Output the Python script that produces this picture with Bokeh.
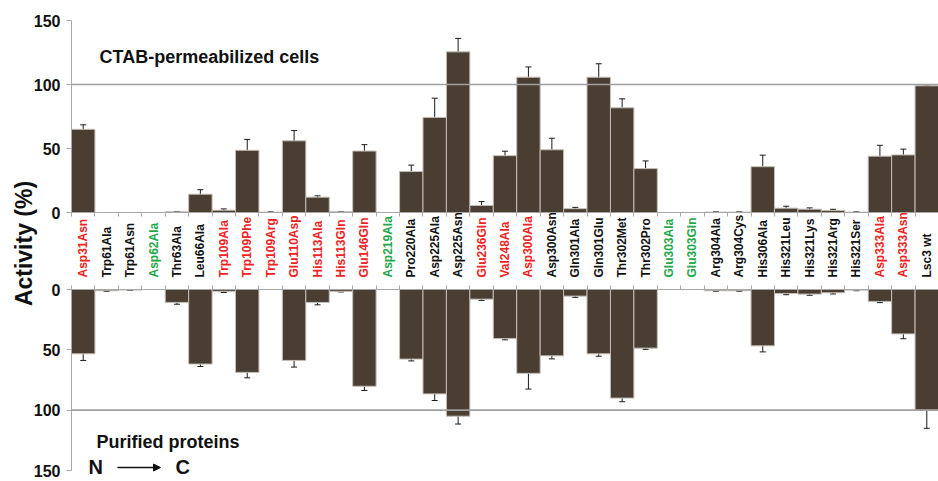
import numpy as np
from math import pi
from bokeh.plotting import figure
from bokeh.models import (Range1d, LinearAxis, FixedTicker, ColumnDataSource, Whisker,
                          TeeHead, Label, Arrow, NormalHead, CustomJSTickFormatter)
from bokeh.transform import factor_cmap
from bokeh.core.properties import value
from bokeh.embed import file_html
from bokeh.resources import INLINE

# ---------------- data ----------------
mutants = ["Asp31Asn", "Trp61Ala", "Trp61Asn", "Asp62Ala", "Thr63Ala", "Leu66Ala",
           "Trp109Ala", "Trp109Phe", "Trp109Arg", "Glu110Asp", "His113Ala", "His113Gln",
           "Glu146Gln", "Asp219Ala", "Pro220Ala", "Asp225Ala", "Asp225Asn", "Glu236Gln",
           "Val248Ala", "Asp300Ala", "Asp300Asn", "Gln301Ala", "Gln301Glu", "Thr302Met",
           "Thr302Pro", "Glu303Ala", "Glu303Gln", "Arg304Ala", "Arg304Cys", "His306Ala",
           "His321Leu", "His321Lys", "His321Arg", "His321Ser", "Asp333Ala", "Asp333Asn",
           "Lsc3 wt"]
label_class = ["A", "B", "B", "C", "B", "B",
               "A", "A", "A", "A", "A", "A",
               "A", "C", "B", "B", "B", "A",
               "A", "A", "B", "B", "B", "B",
               "B", "C", "C", "B", "B", "B",
               "B", "B", "B", "B", "A", "A",
               "B"]
cells_activity = [65, 0, 0, 0, 0.5, 14.3, 1.8, 48.6, 0.3, 56, 12, 0.5,
                  48, 0, 32, 74.3, 125.5, 5.5, 44.4, 105.7, 49, 3, 105.7, 81.8,
                  34.3, 0, 0, 0.3, 0.3, 35.8, 3.4, 2.6, 1.5, 0.3, 44, 45, 99]
cells_error = [3.5, 0, 0, 0, 0.3, 3.5, 1, 8.5, 0.3, 8, 1, 0.3,
               5, 0, 5, 15, 10.5, 3, 3.5, 8, 9, 1, 10.5, 7,
               6, 0, 0, 0.3, 0.3, 9, 1.5, 1, 1, 0.3, 8.5, 4.5, 0.5]
protein_activity = [53.3, 1, 0.5, 0, 10.7, 61.8, 1.5, 68.7, 0, 58.8, 10.7, 1.5,
                    80.2, 0, 57.7, 86.5, 105, 8, 40.7, 69.5, 55, 5.5, 53.3, 90,
                    48.6, 0, 0, 1, 1, 46.7, 3.3, 3.8, 2.7, 0.5, 9.9, 36.8, 100]
protein_error = [5.5, 0.5, 0.3, 0, 1.5, 2, 1, 4.5, 0, 5.5, 2, 0.5,
                 3.5, 0, 1.5, 5.5, 6.5, 1, 1, 13, 2.5, 1, 2, 3,
                 1, 0, 0, 0.5, 0.5, 5, 1, 1, 1, 0.5, 1, 4, 15]
y_ticks = [0, 50, 100, 150]
ref_level = 100
class_names = ["A", "B", "C"]

# ---------------- layout (pixels) ----------------
W, H = 938, 481
AX_X = 71                      # pixel x of the value axes
TOP_150, TOP_0 = 20, 212       # pixel y of 150 / 0 in the upper panel
BOT_0, BOT_150 = 289, 470      # pixel y of 0 / 150 in the lower panel

n = len(mutants)
xpx = (W - AX_X) / n
x_range = Range1d(-AX_X / xpx, n)
tpx = (TOP_0 - TOP_150) / 150.0
y_range = Range1d(-(H - TOP_0) / tpx, 150 + TOP_150 / tpx)
bpx = (BOT_150 - BOT_0) / 150.0
bot_range = Range1d(150 + (H - BOT_150) / bpx, -BOT_0 / bpx)

def tx(px):   # pixel x -> data x
    return (px - AX_X) / xpx

def ty(py):   # pixel y -> upper-panel value
    return (TOP_0 - py) / tpx

def by(py):   # pixel y -> lower-panel value
    return (py - BOT_0) / bpx

# ---------------- style ----------------
FONT = "Liberation Sans"
BAR = "#4a3e32"
AXIS = "#a8a8a8"
INK = "#111111"
class_colors = ["#ee2222", "#111111", "#1fa84a"]

p = figure(width=W, height=H, output_backend="svg", toolbar_location=None,
           x_range=x_range, y_range=y_range,
           min_border_left=0, min_border_right=0, min_border_top=0, min_border_bottom=0,
           x_axis_type=None, y_axis_type=None)
p.outline_line_color = None
p.background_fill_color = "white"
p.border_fill_color = "white"
p.extra_y_ranges = {"bot": bot_range}

xpos = np.arange(n) + 0.5
src = ColumnDataSource(dict(x=xpos, name=mutants, cls=label_class,
                            cells=cells_activity, prot=protein_activity))

# bars
p.vbar(x="x", width=1, top="cells", bottom=0, source=src,
       fill_color=BAR, line_color="#c4beb8", line_width=1)
p.vbar(x="x", width=1, top="prot", bottom=0, source=src, y_range_name="bot",
       fill_color=BAR, line_color="#c4beb8", line_width=1)

# 100 % reference lines (from the axis to the right end)
p.segment(x0=0, x1=n, y0=ref_level, y1=ref_level, line_color="#a0a0a0", line_width=1.6)
p.segment(x0=0, x1=n, y0=ref_level, y1=ref_level, line_color="#a0a0a0", line_width=1.6,
          y_range_name="bot")

# category labels
p.text(x="x", y=ty(277), text="name", source=src, angle=pi / 2,
       text_align="left", text_baseline="middle",
       text_font=value(FONT), text_font_style="bold", text_font_size="12px",
       text_color=factor_cmap("cls", palette=class_colors, factors=class_names))

# error bars
def whiskers(vals, errs, rng):
    idx = [i for i in range(n) if vals[i] > 0]
    ws = ColumnDataSource(dict(x=[xpos[i] for i in idx],
                               up=[vals[i] + errs[i] for i in idx],
                               lo=[vals[i] - errs[i] for i in idx]))
    w = Whisker(source=ws, base="x", upper="up", lower="lo",
                line_color="#1a1a1a", line_width=1,
                upper_head=TeeHead(size=6, line_color="#1a1a1a", line_width=1),
                lower_head=TeeHead(size=6, line_color="#1a1a1a", line_width=1))
    if rng:
        w.y_range_name = rng
    p.add_layout(w)

whiskers(cells_activity, cells_error, None)
whiskers(protein_activity, protein_error, "bot")

# y axes (drawn at x = 0, inside the frame)
for rng in (None, "bot"):
    ax = LinearAxis(ticker=FixedTicker(ticks=y_ticks), bounds=(0, 150), fixed_location=0)
    if rng:
        ax.y_range_name = rng
    ax.major_label_text_font = FONT
    ax.major_label_text_font_style = "bold"
    ax.major_label_text_font_size = "16px"
    ax.major_label_text_color = INK
    ax.axis_line_color = AXIS
    ax.major_tick_line_color = AXIS
    ax.major_tick_out = 5
    ax.major_tick_in = 0
    ax.minor_tick_line_color = None
    ax.major_label_standoff = 6
    p.add_layout(ax, "left")

# x axes (category boundary ticks)
blank = CustomJSTickFormatter(code="return ''")
xb = LinearAxis(ticker=FixedTicker(ticks=list(range(n + 1))), fixed_location=0,
                formatter=blank, bounds=(0, n))
xa = LinearAxis(ticker=FixedTicker(ticks=list(range(n + 1))), fixed_location=0,
                formatter=blank, bounds=(0, n), y_range_name="bot")
for ax in (xb, xa):
    ax.axis_line_color = AXIS
    ax.major_tick_line_color = AXIS
    ax.major_tick_out = 4
    ax.major_tick_in = 0
    ax.minor_tick_line_color = None
p.add_layout(xb, "below")
p.add_layout(xa, "above")

# texts
p.add_layout(Label(x=tx(99), y=ty(56), text="CTAB-permeabilized cells", text_font=FONT,
                   text_font_style="bold", text_font_size="18px", text_baseline="middle",
                   text_color=INK))
p.add_layout(Label(x=tx(96), y=by(441), y_range_name="bot", text="Purified proteins",
                   text_font=FONT, text_font_style="bold", text_font_size="18px",
                   text_baseline="middle", text_color=INK))
p.add_layout(Label(x=tx(23), y=ty(243), text="Activity (%)", angle=pi / 2, text_font=FONT,
                   text_font_style="bold", text_font_size="23px", text_align="center",
                   text_baseline="middle", text_color=INK))
p.add_layout(Label(x=tx(88), y=by(466), y_range_name="bot", text="N", text_font=FONT,
                   text_font_style="bold", text_font_size="20px", text_baseline="middle",
                   text_color=INK))
p.add_layout(Label(x=tx(175), y=by(466), y_range_name="bot", text="C", text_font=FONT,
                   text_font_style="bold", text_font_size="20px", text_baseline="middle",
                   text_color=INK))
p.add_layout(Arrow(x_start=tx(117), y_start=by(467), x_end=tx(160), y_end=by(467),
                   y_range_name="bot", line_color=INK, line_width=1.5,
                   end=NormalHead(size=7, fill_color=INK, line_color=INK)))

open("out.html", "w").write(file_html(p, INLINE))
